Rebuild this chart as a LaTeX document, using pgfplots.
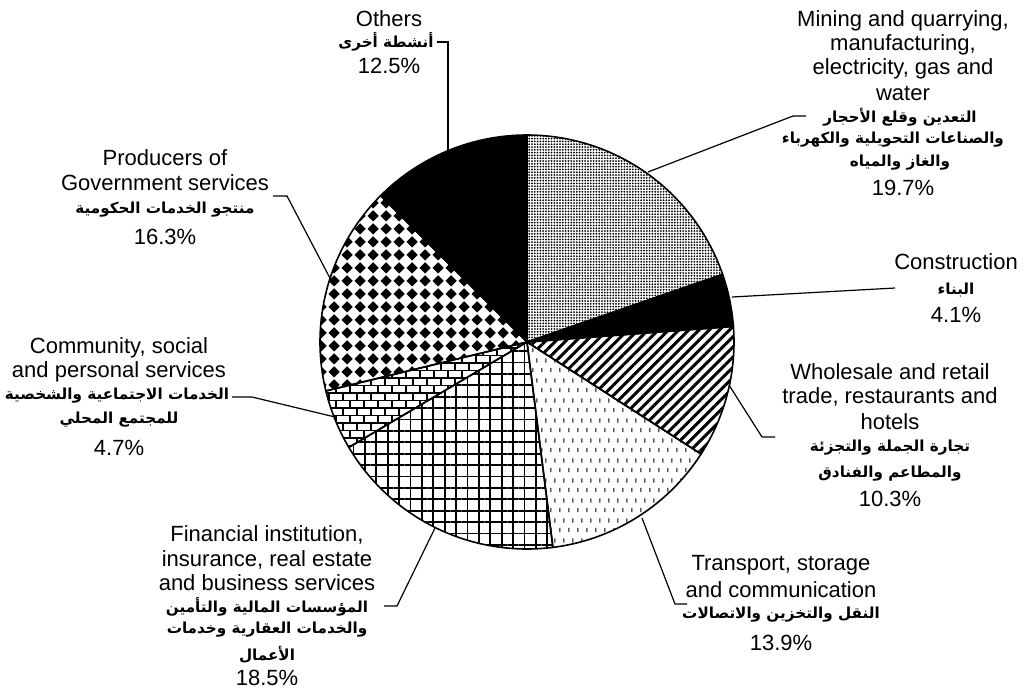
\documentclass[border=0pt]{standalone}
\usepackage{fontspec}
\setmainfont{Liberation Sans}
\newfontfamily\arabicfont[Script=Arabic]{DejaVu Sans}
\TeXXeTstate=1
\usepackage{pgfplots}
\pgfplotsset{compat=1.18}
\usetikzlibrary{patterns,patterns.meta}

% custom patterns
\pgfdeclarepatternformonly{vdash}{\pgfqpoint{0pt}{0pt}}{\pgfqpoint{4.5pt}{10pt}}{\pgfqpoint{4.5pt}{10pt}}{%
  \pgfsetlinewidth{0.6pt}%
  \pgfpathmoveto{\pgfqpoint{1pt}{1pt}}\pgfpathlineto{\pgfqpoint{1pt}{3.2pt}}%
  \pgfpathmoveto{\pgfqpoint{3.25pt}{6pt}}\pgfpathlineto{\pgfqpoint{3.25pt}{8.2pt}}%
  \pgfusepath{stroke}}
\pgfdeclarepatternformonly{bricksx}{\pgfqpoint{-0.5pt}{-0.5pt}}{\pgfqpoint{7.5pt}{8pt}}{\pgfqpoint{7pt}{7.5pt}}{%
  \pgfsetlinewidth{0.8pt}%
  \pgfpathmoveto{\pgfqpoint{-0.5pt}{0pt}}\pgfpathlineto{\pgfqpoint{7.5pt}{0pt}}%
  \pgfpathmoveto{\pgfqpoint{-0.5pt}{3.75pt}}\pgfpathlineto{\pgfqpoint{7.5pt}{3.75pt}}%
  \pgfpathmoveto{\pgfqpoint{-0.5pt}{7.5pt}}\pgfpathlineto{\pgfqpoint{7.5pt}{7.5pt}}%
  \pgfpathmoveto{\pgfqpoint{0pt}{0pt}}\pgfpathlineto{\pgfqpoint{0pt}{3.75pt}}%
  \pgfpathmoveto{\pgfqpoint{7pt}{0pt}}\pgfpathlineto{\pgfqpoint{7pt}{3.75pt}}%
  \pgfpathmoveto{\pgfqpoint{3.5pt}{3.75pt}}\pgfpathlineto{\pgfqpoint{3.5pt}{7.5pt}}%
  \pgfusepath{stroke}}
\pgfdeclarepatternformonly{diamondsx}{\pgfqpoint{0pt}{0pt}}{\pgfqpoint{6.3pt}{6.3pt}}{\pgfqpoint{6.3pt}{6.3pt}}{%
  \pgfpathmoveto{\pgfqpoint{3.15pt}{0.3pt}}%
  \pgfpathlineto{\pgfqpoint{6.0pt}{3.15pt}}%
  \pgfpathlineto{\pgfqpoint{3.15pt}{6.0pt}}%
  \pgfpathlineto{\pgfqpoint{0.3pt}{3.15pt}}%
  \pgfpathclose\pgfusepath{fill}}

% slice: start cumulative %, end cumulative %, style
\newcommand{\slice}[3]{%
  \addplot[#3, draw=black, line width=0.8pt, line join=round,
    domain=90-3.6*#2:90-3.6*#1, samples=90, variable=\t]
    ({527+207*cos(\t)},{342-207*sin(\t)}) -- (axis cs:527,342) -- cycle;}

\newcommand{\en}[3]{\node[font=\fontsize{11}{12}\selectfont, inner sep=0pt] at (axis cs:#1,#2) {#3};}
\newcommand{\ar}[3]{\node[font=\fontsize{7.6}{12}\selectfont\arabicfont\bfseries, inner sep=0pt] at (axis cs:#1,#2) {#3};}

\begin{document}
\begin{tikzpicture}
\begin{axis}[scale only axis, width=512.5pt, height=346.5pt,
  xmin=0, xmax=1025, ymin=0, ymax=693, y dir=reverse,
  axis lines=none, clip=false]
\path (axis cs:0,0) rectangle (axis cs:1025,693);
% shares (%): Mining 19.7, Construction 4.1, Wholesale 10.3, Transport 13.9,
% Financial 18.5, Community 4.7, Producers 16.3, Others 12.5
\slice{0}{19.7}{pattern={Dots[distance=1.4pt, radius=0.5pt]}}
\slice{19.7}{23.8}{fill=black}
\slice{23.8}{34.1}{pattern={Lines[angle=45, distance=3.6pt, line width=1.5pt]}}
\slice{34.1}{48.0}{pattern=vdash}
\slice{48.0}{66.5}{pattern={Hatch[angle=0, distance=5.7pt, line width=0.9pt]}}
\slice{66.5}{71.2}{pattern=bricksx}
\slice{71.2}{87.5}{pattern=diamondsx}
\slice{87.5}{100}{fill=black}

% leader lines
\draw[line width=0.6pt] (axis cs:437,42) -- (axis cs:448,42) -- (axis cs:448,151);
\draw[line width=0.6pt] (axis cs:648,172) -- (axis cs:793,116) -- (axis cs:806,116);
\draw[line width=0.6pt] (axis cs:732,297) -- (axis cs:895,288);
\draw[line width=0.6pt] (axis cs:729,385) -- (axis cs:762,437) -- (axis cs:775,437);
\draw[line width=0.6pt] (axis cs:642,518) -- (axis cs:675,604) -- (axis cs:687,604);
\draw[line width=0.6pt] (axis cs:435,528) -- (axis cs:397,606) -- (axis cs:384,606);
\draw[line width=0.6pt] (axis cs:335,417) -- (axis cs:252,397) -- (axis cs:232,397);
\draw[line width=0.6pt] (axis cs:332,282) -- (axis cs:287,196) -- (axis cs:273,196);

% Others
\en{389}{19}{Others}
\ar{386}{42}{\beginR أنشطة أخرى\endR}
\en{389}{66}{12.5\%}
% Mining
\en{903}{21}{Mining and quarrying,}
\en{903}{45}{manufacturing,}
\en{903}{69}{electricity, gas and}
\en{903}{93}{water}
\ar{900}{117}{\beginR التعدين وقلع الأحجار\endR}
\ar{893}{140}{\beginR والصناعات التحويلية والكهرباء\endR}
\ar{900}{163}{\beginR والغاز والمياه\endR}
\en{903}{188}{19.7\%}
% Construction
\en{956}{262}{Construction}
\ar{956}{290}{\beginR البناء\endR}
\en{956}{315}{4.1\%}
% Wholesale
\en{890}{372}{Wholesale and retail}
\en{890}{397}{trade, restaurants and}
\en{890}{422}{hotels}
\ar{890}{448}{\beginR تجارة الجملة والتجزئة\endR}
\ar{890}{474}{\beginR والمطاعم والفنادق\endR}
\en{890}{499}{10.3\%}
% Transport
\en{781}{565}{Transport, storage}
\en{781}{590}{and communication}
\ar{781}{615}{\beginR النقل والتخزين والاتصالات\endR}
\en{781}{643}{13.9\%}
% Financial
\en{267}{535}{Financial institution,}
\en{267}{560}{insurance, real estate}
\en{267}{583}{and business services}
\ar{267}{607}{\beginR المؤسسات المالية والتأمين\endR}
\ar{267}{630}{\beginR والخدمات العقارية وخدمات\endR}
\ar{267}{655}{\beginR الأعمال\endR}
\en{267}{678}{18.5\%}
% Community
\en{119}{348}{Community, social}
\en{119}{372}{and personal services}
\ar{117}{396}{\beginR الخدمات الاجتماعية والشخصية\endR}
\ar{119}{420}{\beginR للمجتمع المحلي\endR}
\en{119}{448}{4.7\%}
% Producers
\en{165}{158}{Producers of}
\en{165}{183}{Government services}
\ar{165}{210}{\beginR منتجو الخدمات الحكومية\endR}
\en{165}{237}{16.3\%}
\end{axis}
\end{tikzpicture}
\end{document}
